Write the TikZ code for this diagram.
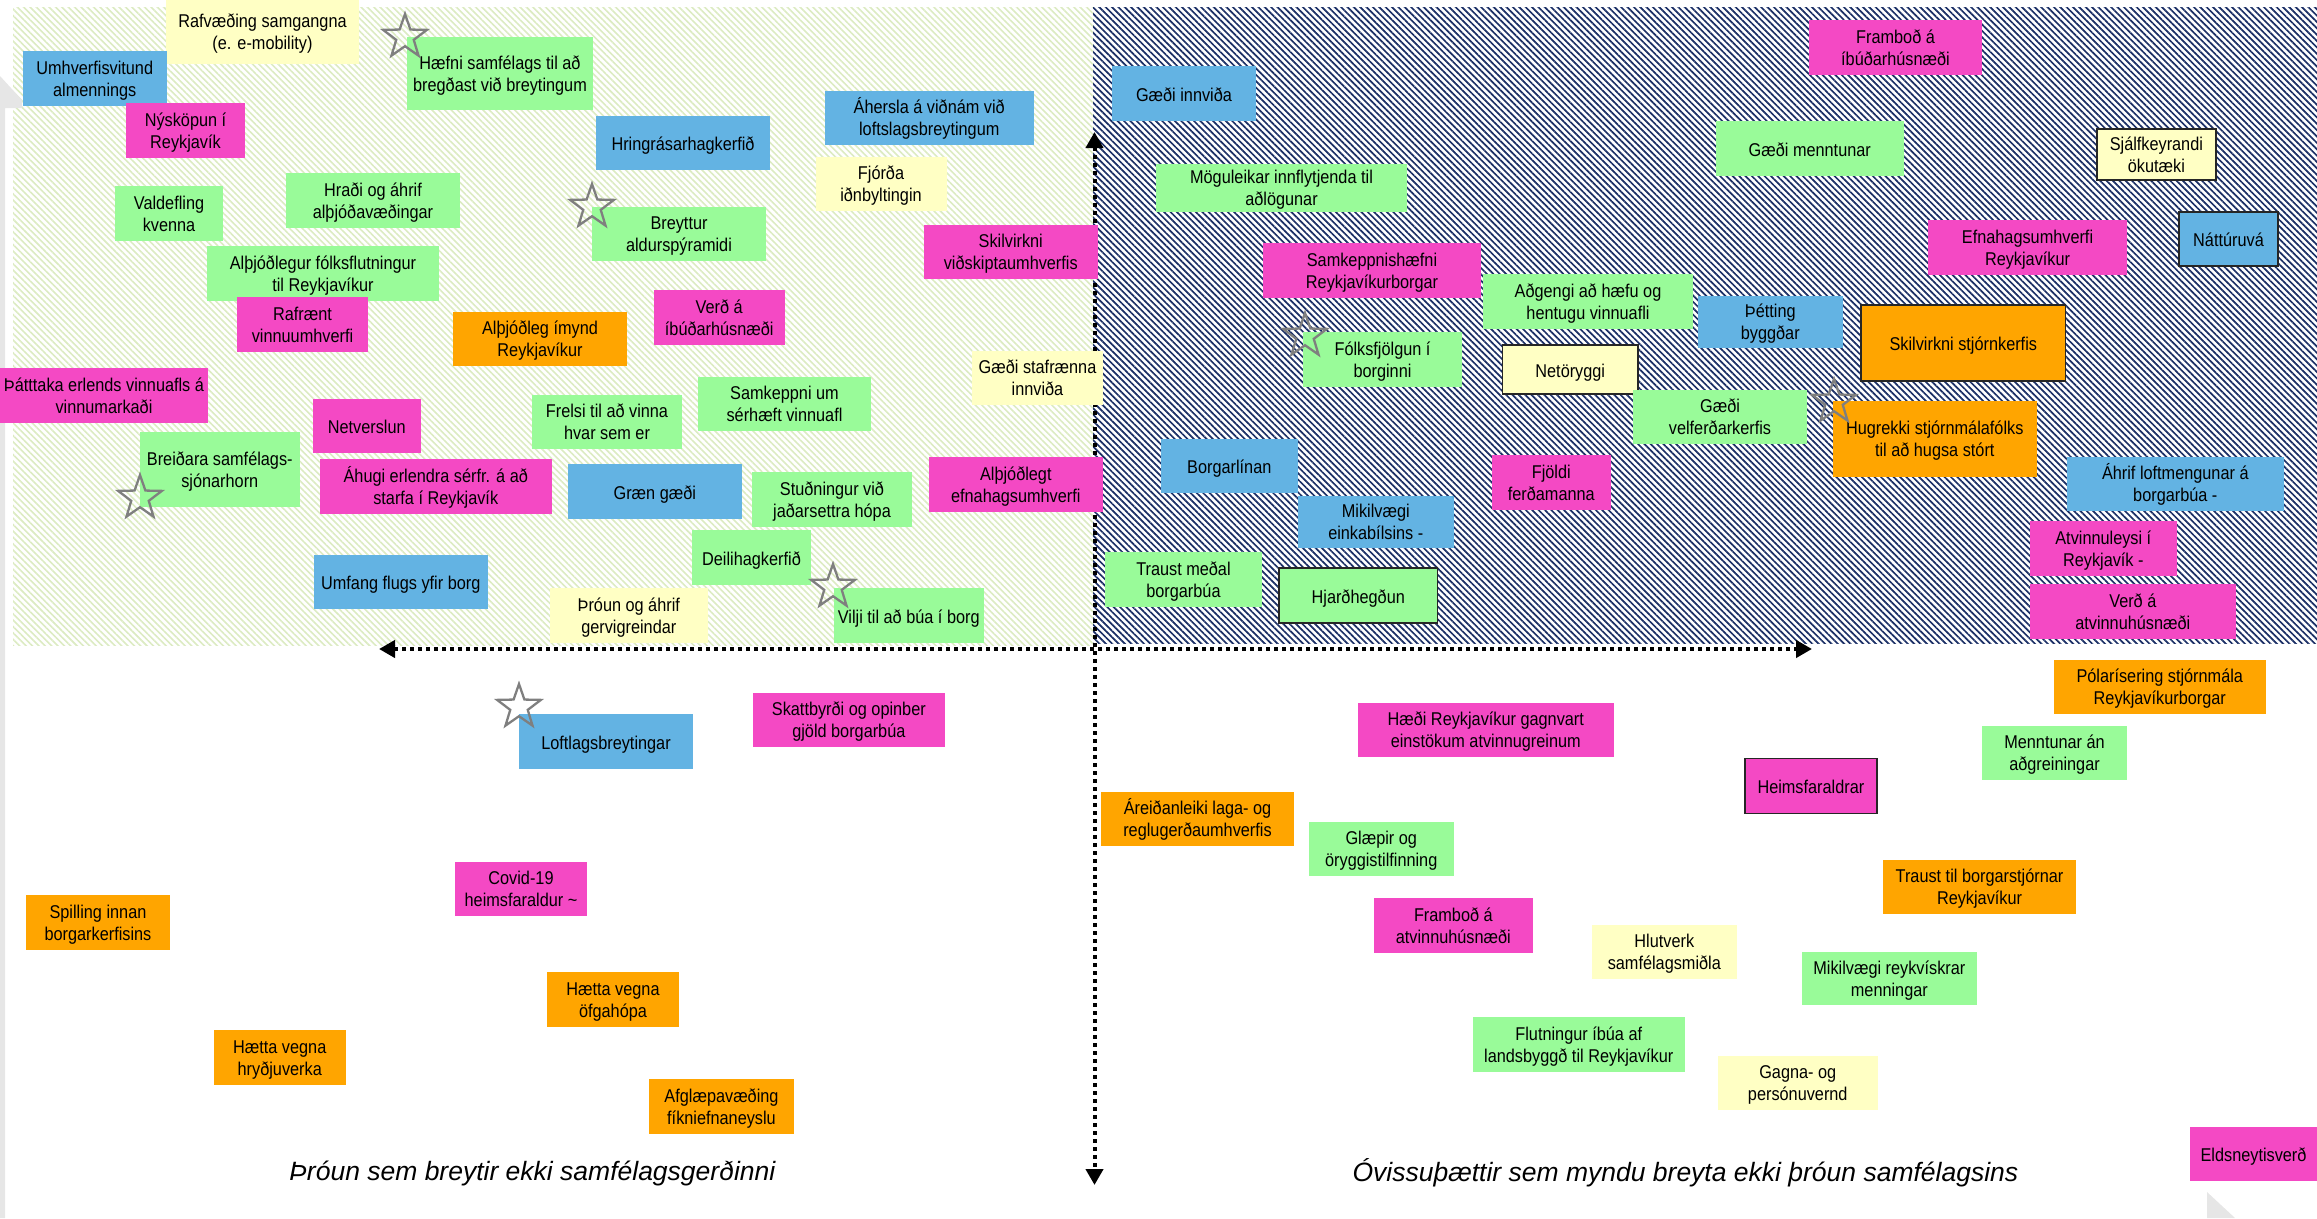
\documentclass[tikz,border=0pt]{standalone}
\usepackage{fontspec}
\setmainfont{Liberation Sans}
\newfontfamily\notefont{Liberation Sans}[FakeStretch=0.88]
\usetikzlibrary{patterns.meta,arrows.meta,shapes.geometric}

\definecolor{notepink}{HTML}{F449C4}
\definecolor{notegreen}{HTML}{99FB99}
\definecolor{noteblue}{HTML}{63B3E3}
\definecolor{noteorange}{HTML}{FFA500}
\definecolor{noteyellow}{HTML}{FFFFC4}
\definecolor{hatchnavy}{HTML}{1B2F66}
\definecolor{hatchgreen}{HTML}{DCEBC2}
\definecolor{pagegray}{HTML}{E6E6E6}
\definecolor{stargray}{HTML}{7F7F7F}

\tikzset{%
	note/.style={inner sep=0pt,outer sep=0pt,shape=rectangle,align=center,text=black,font=\notefont\fontsize{18.5}{22}\selectfont,
		text height=41pt,text depth=5.5pt},
	oneline/.style={text height=21pt},
	dims/.style 2 args={minimum width=#1,minimum height=#2},
	pinknote/.style={note,fill=notepink},
	greennote/.style={note,fill=notegreen},
	bluenote/.style={note,fill=noteblue},
	orangenote/.style={note,fill=noteorange},
	yellownote/.style={note,fill=noteyellow},
	boxline/.style={draw=black!85,line width=1.6pt},
	axisline/.style={line width=4pt,dash pattern=on 4pt off 4pt,{Triangle[length=16pt,width=17pt]}-{Triangle[length=16pt,width=17pt]}},
	starmark/.style={star,star points=5,star point ratio=2.5,draw=stargray,line width=2.3pt,minimum size=46pt,inner sep=0pt},
	quadlabel/.style={font=\fontsize{26.5}{30}\selectfont\itshape},
}

\begin{document}
\begin{tikzpicture}[x=1pt,y=-1pt]
	\useasboundingbox (0,0) rectangle (2317,1218);
	
	%bakgrunnur
	\fill[pattern={Lines[angle=-45,distance=4.5pt,line width=1.6pt]},pattern color=hatchgreen] (13,7) rectangle (1093,645);
	\fill[pattern={Lines[angle=-45,distance=4.5pt,line width=1.7pt]},pattern color=hatchnavy] (1093,7) rectangle (2317,643);
	\fill[pagegray] (0,76) -- (22,100) -- (22,108) -- (5,108) -- (5,1218) -- (0,1218) -- cycle;
	\fill[pagegray] (2207,1192) -- (2235,1218) -- (2207,1218) -- cycle;
	
	%ásar
	\coordinate (vtop) at (1094.5,132);
	\coordinate (vbot) at (1094.5,1185);
	\coordinate (hleft) at (379,649);
	\coordinate (hright) at (1812,649);
	\draw[axisline] (vtop) -- (vbot);
	\draw[axisline] (hleft) -- (hright);
	
	%efri vinstri
	\node[yellownote, dims={193}{64}] (rafvaeding) at (262.5,32) {Rafvæðing samgangna\\(e. e-mobility)};
	\node[bluenote, dims={143.5}{55}] (umhverfi) at (94.75,78.5) {Umhverfisvitund\\almennings};
	\node[pinknote, dims={119}{55}] (nyskopun) at (185.5,130.5) {Nýsköpun í\\Reykjavík};
	\node[greennote, dims={186}{73}] (haefni) at (500,73.5) {Hæfni samfélags til að\\bregðast við breytingum};
	\node[bluenote, oneline, dims={174}{54}] (hringras) at (683,143) {Hringrásarhagkerfið};
	\node[bluenote, dims={208.5}{54}] (ahersla) at (929.25,118) {Áhersla á viðnám við\\loftslagsbreytingum};
	\node[yellownote, dims={131}{54}] (fjorda) at (881,184) {Fjórða\\iðnbyltingin};
	\node[greennote, dims={108}{55}] (valdefling) at (169,213.5) {Valdefling\\kvenna};
	\node[greennote, dims={174}{55}] (hradi) at (373,200.5) {Hraði og áhrif\\alþjóðavæðingar};
	\node[greennote, dims={174}{54}] (breyttur) at (679,234) {Breyttur\\aldurspýramidi};
	\node[pinknote, dims={173.5}{54}] (skilvirknivid) at (1010.75,252) {Skilvirkni\\viðskiptaumhverfis};
	\node[greennote, dims={232}{55}] (folksflutn) at (323,273.5) {Alþjóðlegur fólksflutningur\\til Reykjavíkur};
	\node[pinknote, dims={131}{55}] (rafraent) at (302.5,324.5) {Rafrænt\\vinnuumhverfi};
	\node[orangenote, dims={174}{54}] (imynd) at (540,339) {Alþjóðleg ímynd\\Reykjavíkur};
	\node[pinknote, dims={130.5}{55}] (verdibud) at (719.25,317.5) {Verð á\\íbúðarhúsnæði};
	\node[pinknote, dims={208}{55}] (thatttaka) at (104,395.5) {Þátttaka erlends vinnuafls á\\vinnumarkaði};
	\node[yellownote, dims={131}{54}] (stafraen) at (1037.5,378) {Gæði stafrænna\\innviða};
	\node[greennote, dims={173}{54}] (samkeppnium) at (784.5,404) {Samkeppni um\\sérhæft vinnuafl};
	\node[pinknote, oneline, dims={107.6}{53.7}] (netverslun) at (366.8,425.85) {Netverslun};
	\node[greennote, dims={150}{54}] (frelsi) at (607,422) {Frelsi til að vinna\\hvar sem er};
	\node[greennote, dims={159.6}{74.7}] (breidara) at (219.8,469.35) {Breiðara samfélags-\\sjónarhorn};
	\node[pinknote, dims={231.5}{54.7}] (ahugi) at (435.75,486.35) {Áhugi erlendra sérfr. á að\\starfa í Reykjavík};
	\node[bluenote, oneline, dims={173.6}{54.7}] (graen) at (654.8,491.35) {Græn gæði};
	\node[greennote, dims={160}{54.7}] (studningur) at (832,499.35) {Stuðningur við\\jaðarsettra hópa};
	\node[pinknote, dims={173.6}{54.7}] (althjodlegt) at (1015.8,484.35) {Alþjóðlegt\\efnahagsumhverfi};
	\node[greennote, oneline, dims={119}{54.7}] (deili) at (751.5,557.35) {Deilihagkerfið};
	\node[bluenote, oneline, dims={173.5}{53.7}] (umfang) at (400.75,581.85) {Umfang flugs yfir borg};
	\node[yellownote, dims={157.6}{55}] (gervigreind) at (628.8,615.5) {Þróun og áhrif\\gervigreindar};
	\node[greennote, oneline, dims={149.5}{55}] (vilji) at (908.75,615.5) {Vilji til að búa í borg};
	
	%efri hægri
	\node[pinknote, dims={173}{55}] (frambodibud) at (1895.5,47.5) {Framboð á\\íbúðarhúsnæði};
	\node[bluenote, oneline, dims={144}{55}] (gaediinnv) at (1184,93.5) {Gæði innviða};
	\node[greennote, oneline, dims={187.5}{55}] (gaedimennt) at (1809.75,148.5) {Gæði menntunar};
	\node[yellownote, boxline, dims={119.3}{51}] (sjalfkeyr) at (2156.35,154.5) {Sjálfkeyrandi\\ökutæki};
	\node[greennote, dims={251}{48}] (moguleikar) at (1281.5,188) {Möguleikar innflytjenda til\\aðlögunar};
	\node[bluenote, oneline, boxline, dims={99}{54}] (natturuva) at (2228.5,239) {Náttúruvá};
	\node[pinknote, dims={199}{55}] (efnahagsumhv) at (2027.5,247.5) {Efnahagsumhverfi\\Reykjavíkur};
	\node[pinknote, dims={218}{55}] (samkeppnish) at (1372,270.5) {Samkeppnishæfni\\Reykjavíkurborgar};
	\node[greennote, dims={210}{55}] (adgengi) at (1588,301.5) {Aðgengi að hæfu og\\hentugu vinnuafli};
	\node[bluenote, dims={144.5}{52}] (thetting) at (1770.25,322) {Þétting\\byggðar};
	\node[orangenote, oneline, boxline, dims={204.6}{76}] (skilvirknistj) at (1963.3,343) {Skilvirkni stjórnkerfis};
	\node[greennote, dims={159}{55}] (folksfjolgun) at (1382.5,359.5) {Fólksfjölgun í\\borginni};
	\node[yellownote, oneline, boxline, dims={135.5}{49}] (netoryggi) at (1570.25,369.5) {Netöryggi};
	\node[greennote, dims={174}{54}] (velferd) at (1720,417) {Gæði\\velferðarkerfis};
	\node[orangenote, dims={203.5}{76}] (hugrekki) at (1934.75,439) {Hugrekki stjórnmálafólks\\til að hugsa stórt};
	\node[bluenote, oneline, dims={136.6}{54}] (borgarlinan) at (1229.3,466) {Borgarlínan};
	\node[pinknote, dims={118.6}{55}] (fjoldi) at (1551.3,482.5) {Fjöldi\\ferðamanna};
	\node[bluenote, dims={216.6}{54}] (loftmengun) at (2175.3,484) {Áhrif loftmengunar  á\\borgarbúa -};
	\node[bluenote, dims={155.5}{52}] (einkabill) at (1375.75,522) {Mikilvægi\\einkabílsins -};
	\node[pinknote, dims={146.6}{55}] (atvinnuleysi) at (2103.3,548.5) {Atvinnuleysi í\\Reykjavík -};
	\node[greennote, dims={157.9}{55}] (traustmedal) at (1183.45,579.5) {Traust meðal\\borgarbúa};
	\node[greennote, oneline, boxline, dims={158.5}{55}] (hjardhegdun) at (1358.25,595.5) {Hjarðhegðun};
	\node[pinknote, dims={205.6}{55}] (verdatv) at (2132.8,611.5) {Verð á\\atvinnuhúsnæði};
	
	%neðri vinstri
	\node[bluenote, oneline, dims={174}{54.5}] (loftlags) at (606,741.25) {Loftlagsbreytingar};
	\node[pinknote, dims={191.7}{53.5}] (skattbyrdi) at (848.85,719.75) {Skattbyrði og opinber\\gjöld borgarbúa};
	\node[pinknote, dims={132}{54}] (covid) at (521,889) {Covid-19\\heimsfaraldur \textasciitilde};
	\node[orangenote, dims={144}{54.7}] (spilling) at (98,922.35) {Spilling innan\\borgarkerfisins};
	\node[orangenote, dims={132}{54.5}] (ofgahopa) at (613,999.25) {Hætta vegna\\öfgahópa};
	\node[orangenote, dims={131.5}{54.6}] (hrydjuverk) at (279.75,1057.3) {Hætta vegna\\hryðjuverka};
	\node[orangenote, dims={145}{54.7}] (afglaep) at (721.5,1106.35) {Afglæpavæðing\\fíkniefnaneyslu};
	
	%neðri hægri
	\node[orangenote, dims={211.5}{54}] (polar) at (2159.75,687) {Pólarísering stjórnmála\\Reykjavíkurborgar};
	\node[pinknote, dims={255.5}{53.8}] (haedi) at (1485.75,729.9) {Hæði Reykjavíkur gagnvart\\einstökum atvinnugreinum};
	\node[greennote, dims={145}{53.6}] (menntunaran) at (2054.5,752.8) {Menntunar án\\aðgreiningar};
	\node[pinknote, oneline, boxline, dims={131.7}{54.8}] (heimsfar) at (1810.85,786) {Heimsfaraldrar};
	\node[orangenote, dims={193}{54}] (areidanleiki) at (1197.5,819) {Áreiðanleiki laga- og\\reglugerðaumhverfis};
	\node[greennote, dims={144.5}{53.7}] (glaepir) at (1381.25,848.85) {Glæpir og\\öryggistilfinning};
	\node[orangenote, dims={193}{54}] (traustborg) at (1979.5,887) {Traust til borgarstjórnar\\Reykjavíkur};
	\node[pinknote, dims={158.7}{54.5}] (frambodatv) at (1453.35,925.25) {Framboð  á\\atvinnuhúsnæði};
	\node[yellownote, dims={144.6}{53.5}] (hlutverk) at (1664.3,951.75) {Hlutverk\\samfélagsmiðla};
	\node[greennote, dims={174.7}{53}] (menning) at (1889.35,978.5) {Mikilvægi reykvískrar\\menningar};
	\node[greennote, dims={211.5}{55}] (flutningur) at (1578.75,1044.5) {Flutningur íbúa af\\landsbyggð til Reykjavíkur};
	\node[yellownote, dims={159.5}{54}] (gagna) at (1797.75,1083) {Gagna- og\\persónuvernd};
	\node[pinknote, oneline, dims={127}{54}] (eldsneyti) at (2253.5,1154) {Eldsneytisverð};
	
	%stjörnur
	\node[starmark] (star1) at (405,37) {};
	\node[starmark] (star2) at (592,207) {};
	\node[starmark] (star3) at (140,498) {};
	\node[starmark] (star4) at (833,587) {};
	\node[starmark] (star5) at (1305,336) {};
	\node[starmark] (star6) at (1834,402) {};
	\node[starmark] (star7) at (519,707) {};
	
	%textar
	\node[quadlabel] (proun) at (532.3,1173) {Þróun sem breytir ekki samfélagsgerðinni};
	\node[quadlabel] (ovissa) at (1685.4,1173) {Óvissuþættir sem myndu breyta ekki þróun samfélagsins};
\end{tikzpicture}
\end{document}
